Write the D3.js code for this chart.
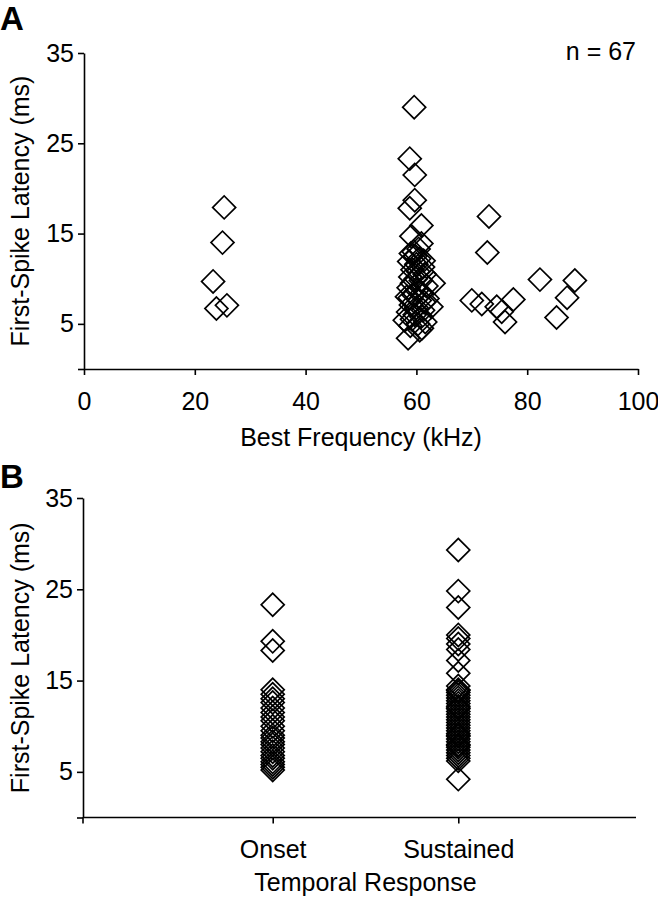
<!DOCTYPE html>
<html><head><meta charset="utf-8">
<script src="https://cdn.jsdelivr.net/npm/d3@7"></script>
<style>body{margin:0;background:#fff}svg{display:block}text{font-family:"Liberation Sans",Arial,sans-serif;fill:#000}</style>
</head><body><svg id="c" width="658" height="900"></svg>
<script>
// Panel A: best frequency (kHz) vs first-spike latency (ms)
const bfA = [25.3,25.0,23.3,23.9,25.8,
  73.1,72.8,82.3,88.6,87.2,85.3,77.5,76.0,75.4,74.5,71.8,70.0,
  59.6,58.8,59.7,59.7,58.8,60.9,59.1,60.9,63.1,62.7,57.9,60.6,58.5,
  59.0,59.8,60.5,58.7,60.0,61.2,59.3,60.3,61.5,58.9,59.9,60.8,59.2,61.8,58.6,60.1,61.0,59.5,58.8,60.6,61.4,59.0,60.0,61.2,58.5,59.7,60.9,59.2,61.6,60.3,58.9,61.0,60.4,59.5,61.3,58.3,62.0];
const latA = [17.9,14.0,9.7,6.7,7.05,
  16.9,12.9,9.9,9.8,7.9,5.7,7.7,5.2,6.35,6.9,7.2,7.6,
  29.0,23.3,21.5,18.7,17.8,15.9,14.7,13.9,9.5,6.9,5.4,4.3,3.4,
  12.8,12.5,12.2,11.9,11.6,11.3,11.0,10.8,10.5,10.2,10.0,9.8,9.5,9.2,9.0,8.7,8.4,8.2,7.9,7.6,7.4,7.1,6.8,6.5,6.3,6.0,5.8,5.5,5.2,5.0,4.8,4.5,13.3,13.0,12.0,8.0,7.8];
const xTicksA = [0,20,40,60,80,100];
const yTicks = [0,5,15,25,35];
// Panel B: temporal response categories
const categories = ["Onset","Sustained"];
const onsetLat = [23.3,19.3,18.3,14.0,13.5,13.0,12.6,12.0,11.5,11.0,10.6,10.0,9.5,9.0,8.7,8.3,8.0,7.6,7.2,6.8,6.5,6.1,5.8,5.5,5.2];
const sustainedLat = [29.3,24.8,23.0,20.0,19.6,19.0,18.4,17.2,15.8,14.0,13.7,13.4,13.1,12.8,12.5,12.2,11.9,11.6,11.3,11.0,10.7,10.4,10.1,9.8,9.5,9.2,8.9,8.6,8.3,8.0,7.7,7.4,7.1,6.8,6.5,6.2,14.4,13.9,12.0,9.0,7.9,4.2];

const svg = d3.select("#c");
const FS = 25;
const diamond = d3.symbol().type(d3.symbolSquare).size(265)();

function styleAxis(g){
  g.selectAll("path,line").attr("stroke","#000").attr("stroke-width",1.6);
  g.selectAll("text").attr("font-size",FS).attr("font-family","Liberation Sans, Arial, sans-serif").attr("fill","#000");
}

// ---------- Panel A ----------
const xA = d3.scaleLinear().domain([0,100]).range([84,638]);
const yA = d3.scaleLinear().domain([0,35]).range([369,53]);
const gxA = svg.append("g").attr("transform",`translate(0,${yA(0)})`)
  .call(d3.axisBottom(xA).tickValues(xTicksA).tickSize(6).tickSizeOuter(0).tickPadding(17));
styleAxis(gxA);
const gyA = svg.append("g").attr("transform",`translate(${xA(0)},0)`)
  .call(d3.axisLeft(yA).tickValues(yTicks).tickSize(6).tickSizeOuter(0).tickPadding(4).tickFormat(d=>d===0?"":d));
styleAxis(gyA);
svg.append("g").selectAll("path").data(bfA).join("path")
  .attr("d",diamond)
  .attr("transform",(d,i)=>`translate(${xA(d)},${yA(latA[i])}) rotate(45)`)
  .attr("fill","none").attr("stroke","#000").attr("stroke-width",1.7);
svg.append("text").attr("x",(xA(0)+xA(100))/2).attr("y",446).attr("text-anchor","middle").attr("font-size",FS).text("Best Frequency (kHz)");
svg.append("text").attr("transform",`translate(29,${(yA(0)+yA(35))/2}) rotate(-90)`).attr("text-anchor","middle").attr("font-size",FS).text("First-Spike Latency (ms)");
svg.append("text").attr("x",636).attr("y",60).attr("text-anchor","end").attr("font-size",FS).text("n = 67");
svg.append("text").attr("x",0).attr("y",30).attr("font-size",33).attr("font-weight","bold").text("A");

// ---------- Panel B ----------
const xAxisB = d3.scaleLinear().domain([0,1]).range([83,636]);
const xB = d3.scalePoint().domain(categories).range([89,642]).padding(0.99);
const yB = d3.scaleLinear().domain([0,35]).range([817.5,498]);
const gxB = svg.append("g").attr("transform",`translate(0,${yB(0)})`)
  .call(d3.axisBottom(xB).tickSize(6).tickSizeOuter(0).tickPadding(17));
styleAxis(gxB);
gxB.select(".domain").attr("d",`M${xAxisB(0)},0H${xAxisB(1)}M${xAxisB(0)},0V6`);
const gyB = svg.append("g").attr("transform",`translate(${xAxisB(0)},0)`)
  .call(d3.axisLeft(yB).tickValues(yTicks).tickSize(6).tickSizeOuter(0).tickPadding(4).tickFormat(d=>d===0?"":d));
styleAxis(gyB);
const ptsB = onsetLat.map(v=>({c:"Onset",v})).concat(sustainedLat.map(v=>({c:"Sustained",v})));
svg.append("g").selectAll("path").data(ptsB).join("path")
  .attr("d",diamond)
  .attr("transform",d=>`translate(${xB(d.c)},${yB(d.v)}) rotate(45)`)
  .attr("fill","none").attr("stroke","#000").attr("stroke-width",1.7);
svg.append("text").attr("x",(xB("Onset")+xB("Sustained"))/2).attr("y",891).attr("text-anchor","middle").attr("font-size",FS).text("Temporal Response");
svg.append("text").attr("transform",`translate(29,${(yB(0)+yB(35))/2}) rotate(-90)`).attr("text-anchor","middle").attr("font-size",FS).text("First-Spike Latency (ms)");
svg.append("text").attr("x",0).attr("y",488).attr("font-size",33).attr("font-weight","bold").text("B");
</script></body></html>
